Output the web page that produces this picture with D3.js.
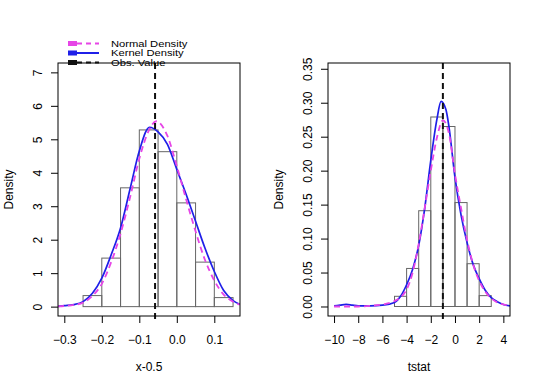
<!DOCTYPE html>
<html>
<head>
<meta charset="utf-8">
<script src="https://cdn.jsdelivr.net/npm/d3@7"></script>
<style>
  body { margin: 0; background: #fff; }
  svg { display: block; font-family: "Liberation Sans", Arial, sans-serif; }
</style>
</head>
<body>
<svg id="chart" width="540" height="389"></svg>
<script>
// left panel: x - 0.5
const leftBins = [-0.25, -0.2, -0.15, -0.1, -0.05, 0, 0.05, 0.1, 0.15]
const leftHist = [0.33, 1.45, 3.55, 5.28, 4.63, 3.1, 1.33, 0.27]
const leftNormX = [-0.317, -0.3, -0.275, -0.25, -0.225, -0.2, -0.175, -0.15, -0.125, -0.1, -0.075, -0.055, -0.025, 0, 0.025, 0.05, 0.075, 0.1, 0.125, 0.15, 0.168]
const leftNormY = [0.01, 0.02, 0.05, 0.12, 0.32, 0.68, 1.33, 2.18, 3.25, 4.42, 5.25, 5.54, 5.1, 4.2, 3.2, 2.25, 1.4, 0.78, 0.36, 0.15, 0.06]
const leftKdeX = [-0.317, -0.3, -0.275, -0.25, -0.225, -0.2, -0.175, -0.15, -0.125, -0.1, -0.073, -0.05, -0.025, 0, 0.025, 0.05, 0.075, 0.1, 0.125, 0.15, 0.168]
const leftKdeY = [0.01, 0.03, 0.06, 0.15, 0.4, 0.85, 1.55, 2.35, 3.5, 4.65, 5.36, 5.22, 4.85, 4.1, 3.35, 2.55, 1.75, 1.05, 0.48, 0.18, 0.07]
const leftObs = -0.058
const leftXTicks = [-0.3, -0.2, -0.1, 0.0, 0.1]
const leftYTicks = [0, 1, 2, 3, 4, 5, 6, 7]

// right panel: tstat
const rightBins = [-5, -4, -3, -2, -1, 0, 1, 2, 3]
const rightHist = [0.015, 0.056, 0.141, 0.279, 0.265, 0.153, 0.063, 0.016]
const rightNormX = [-10, -9, -8, -7, -6, -5, -4, -3.5, -3, -2.5, -2, -1.5, -1, -0.5, 0, 0.5, 1, 1.5, 2, 2.5, 3, 3.5, 4, 4.55]
const rightNormY = [0, 0, 0, 0.001, 0.003, 0.008, 0.025, 0.05, 0.092, 0.145, 0.2, 0.248, 0.274, 0.255, 0.195, 0.145, 0.098, 0.062, 0.038, 0.022, 0.012, 0.006, 0.003, 0.001]
const rightKdeX = [-10, -9.5, -9, -8.5, -8, -7, -6, -5, -4.5, -4, -3.5, -3, -2.5, -2, -1.5, -1.15, -0.75, -0.5, 0, 0.5, 1, 1.5, 2, 2.5, 3, 3.5, 4, 4.55]
const rightKdeY = [0.001, 0.002, 0.003, 0.002, 0.001, 0.001, 0.002, 0.006, 0.015, 0.032, 0.055, 0.09, 0.145, 0.215, 0.275, 0.302, 0.29, 0.265, 0.19, 0.135, 0.094, 0.062, 0.041, 0.024, 0.013, 0.007, 0.003, 0.001]
const rightObs = -1
const rightXTicks = [-10, -8, -6, -4, -2, 0, 2, 4]
const rightYTicks = [0, 0.05, 0.1, 0.15, 0.2, 0.25, 0.3, 0.35]

const legendLabels = ["Normal Density", "Kernel Density", "Obs. Value"]

const pink = "#e645e6", blue = "#1f1fe8"
const svg = d3.select("#chart")
const plotTop = 63, plotBottom = 316

function panel(o) {
    const x = d3.scaleLinear().domain(o.xDomain).range([o.left, o.left + 182])
    const y = d3.scaleLinear().domain(o.yDomain).range([plotBottom, plotTop])
    const g = svg.append("g")

    g.append("clipPath").attr("id", o.id)
        .append("rect")
        .attr("x", o.left).attr("y", plotTop)
        .attr("width", 182).attr("height", plotBottom - plotTop)

    const plot = g.append("g").attr("clip-path", `url(#${o.id})`)

    plot.selectAll("rect.bar")
        .data(o.hist)
        .enter().append("rect")
        .attr("class", "bar")
        .attr("x", (d, i) => x(o.bins[i]))
        .attr("y", d => y(d))
        .attr("width", (d, i) => x(o.bins[i + 1]) - x(o.bins[i]))
        .attr("height", d => y(0) - y(d))
        .attr("fill", "none")
        .attr("stroke", "#666")
        .attr("stroke-width", 1)

    const line = d3.line()
        .x(d => x(d[0]))
        .y(d => y(d[1]))
        .curve(d3.curveMonotoneX)

    plot.append("path")
        .datum(o.kdeX.map((v, i) => [v, o.kdeY[i]]))
        .attr("d", line)
        .attr("fill", "none")
        .attr("stroke", blue)
        .attr("stroke-width", 1.7)

    plot.append("path")
        .datum(o.normX.map((v, i) => [v, o.normY[i]]))
        .attr("d", line)
        .attr("fill", "none")
        .attr("stroke", pink)
        .attr("stroke-width", 1.8)
        .attr("stroke-dasharray", "6,4")

    g.append("line")
        .attr("x1", x(o.obs)).attr("x2", x(o.obs))
        .attr("y1", plotTop).attr("y2", plotBottom + 6)
        .attr("stroke", "#111")
        .attr("stroke-width", 2)
        .attr("stroke-dasharray", "6,4")

    // box
    g.append("rect")
        .attr("x", o.left).attr("y", plotTop)
        .attr("width", 182).attr("height", plotBottom - plotTop)
        .attr("fill", "none")
        .attr("stroke", "#000")

    const xAxis = g.append("g")
        .attr("transform", `translate(0,${plotBottom})`)
        .call(d3.axisBottom(x).tickValues(o.xTicks).tickSize(7).tickPadding(12)
            .tickFormat(o.xFormat))
    xAxis.select(".domain").remove()
    xAxis.selectAll("text").attr("font-size", 12).attr("font-family", null).attr("fill", "#000")

    const yAxis = g.append("g")
        .attr("transform", `translate(${o.left},0)`)
        .call(d3.axisLeft(y).tickValues(o.yTicks).tickSize(7).tickFormat(o.yFormat))
    yAxis.select(".domain").remove()
    yAxis.selectAll("text")
        .attr("font-size", 12).attr("font-family", null).attr("fill", "#000")
        .attr("x", 0).attr("dy", null)
        .attr("text-anchor", "middle")
        .attr("transform", "translate(-16,0) rotate(-90)")

    g.append("text")
        .attr("x", o.left + 91).attr("y", 371)
        .attr("text-anchor", "middle")
        .attr("font-size", 12)
        .text(o.xLabel)

    g.append("text")
        .attr("transform", `translate(${o.left - 45},189.5) rotate(-90)`)
        .attr("text-anchor", "middle")
        .attr("font-size", 12)
        .text("Density")
}

panel({
    id: "clipL", left: 58,
    xDomain: [-0.3168, 0.1685], yDomain: [-0.28, 7.28],
    bins: leftBins, hist: leftHist,
    normX: leftNormX, normY: leftNormY, kdeX: leftKdeX, kdeY: leftKdeY,
    obs: leftObs, xTicks: leftXTicks, yTicks: leftYTicks,
    xFormat: d3.format(".1f"), yFormat: d3.format("d"),
    xLabel: "x-0.5"
})

panel({
    id: "clipR", left: 328,
    xDomain: [-10.5, 4.55], yDomain: [-0.014, 0.3585],
    bins: rightBins, hist: rightHist,
    normX: rightNormX, normY: rightNormY, kdeX: rightKdeX, kdeY: rightKdeY,
    obs: rightObs, xTicks: rightXTicks, yTicks: rightYTicks,
    xFormat: d3.format("d"), yFormat: d3.format(".2f"),
    xLabel: "tstat"
})

// legend (text is squat and wide in the original)
const legendColors = [pink, blue, "#111"]
const legendDash = ["5,4", null, "5,4"]
const leg = svg.append("g")
legendLabels.forEach((t, i) => {
    const cy = 43.5 + i * 9.5
    leg.append("line")
        .attr("x1", 68).attr("x2", 99).attr("y1", cy).attr("y2", cy)
        .attr("stroke", legendColors[i]).attr("stroke-width", 2)
        .attr("stroke-dasharray", legendDash[i])
    leg.append("rect")
        .attr("x", 68).attr("y", cy - 2.5).attr("width", 9).attr("height", 5)
        .attr("fill", legendColors[i])
    leg.append("text")
        .attr("transform", `translate(111,${cy}) scale(1.3,1)`)
        .attr("dy", "0.35em")
        .attr("font-size", 8.6)
        .text(t)
})
</script>
</body>
</html>
